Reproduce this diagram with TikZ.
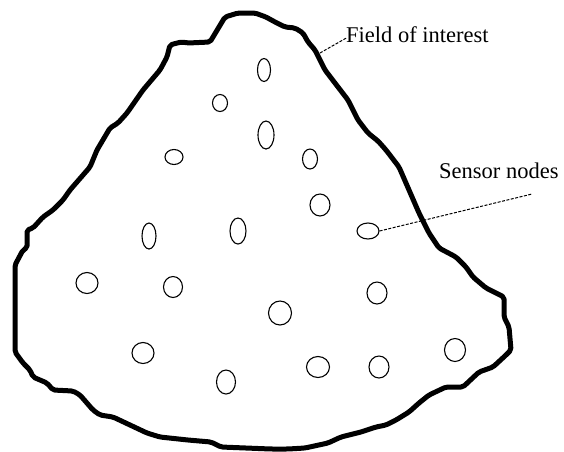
\documentclass[tikz,border=0pt]{standalone}
\usepackage{fontspec}
\setmainfont{Liberation Serif}
\usepackage{tikz}
\usetikzlibrary{shapes.geometric}

\begin{document}
\begin{tikzpicture}[x=1pt, y=-1pt, font=\fontsize{22.5}{27}\selectfont,
    sensor/.style={draw, ellipse, line width=1.1pt, inner sep=0pt},
    leader/.style={line width=1pt, dash pattern=on 3pt off 1.5pt}]
    \useasboundingbox (0,0) rectangle (564,451);

    % field of interest outline
    \draw[line width=5pt, line join=round, rounded corners=2pt]
      (225,17) -- (238,13) -- (255,13) -- (266,17) -- (275,22) -- (285,27) -- (295,28)
      -- (303,33) -- (308,42) -- (315,50) -- (320,60) -- (325,70) -- (338,87) -- (348,100)
      -- (358,120) -- (368,133) -- (378,141) -- (386,150) -- (399,167) -- (409,190)
      -- (419,213) -- (429,233) -- (439,248) -- (456,257) -- (466,267) -- (473,277)
      -- (486,288) -- (504,297) -- (504,317) -- (509,327) -- (511,350) -- (506,355)
      -- (493,367) -- (479,372) -- (463,387) -- (446,387) -- (429,395) -- (419,403)
      -- (409,412) -- (396,420) -- (386,425) -- (376,427) -- (361,432) -- (341,437)
      -- (328,443) -- (305,448) -- (288,449) -- (271,449) -- (221,447) -- (211,442)
      -- (188,440) -- (160,437) -- (147,433) -- (130,425) -- (113,417) -- (100,415)
      -- (93,410) -- (80,395) -- (73,391) -- (53,390) -- (47,383) -- (33,377) -- (30,370)
      -- (23,363) -- (15,352) -- (15,333) -- (15,300) -- (15,265) -- (23,250) -- (27,248)
      -- (27,230) -- (33,228) -- (43,217) -- (53,210) -- (63,200) -- (70,190) -- (90,167)
      -- (97,150) -- (110,128) -- (118,123) -- (127,113) -- (143,90) -- (160,70)
      -- (167,57) -- (170,45) -- (177,43) -- (182,42) -- (188,43) -- (210,42) -- cycle;

    % sensor nodes: name/x/y/width/height
    \foreach \n/\x/\y/\w/\h in {1/264/70/13/23, 2/220/103/15/17, 3/266/135/16/28,
        4/174/157/18/15, 5/310/159/15/20, 6/320/205/20/22, 7/149/236/14/26,
        8/238/231/16/26, 9/368/231/22/16, 10/87/283/22/21, 11/173/287/19/21,
        12/377/293/20/22, 13/280/313/23/24, 14/143/353/22/21, 15/455/350/21/23,
        16/318/367/23/21, 17/379/367/20/22, 18/226/382/19/24}
      \node[sensor, minimum width=\w pt, minimum height=\h pt] (s\n) at (\x,\y) {};

    \node[anchor=base west, inner sep=0pt] (fieldlbl) at (346,42) {Field of interest};
    \node[anchor=base west, inner sep=0pt] (sensorlbl) at (439,178) {Sensor nodes};

    \coordinate (fieldpt) at (320,53);
    \coordinate (sensend) at (532,194);
    \draw[leader] (fieldpt) -- ([yshift=-4pt]fieldlbl.west);
    \draw[leader] (s9.east) -- (sensend);
\end{tikzpicture}
\end{document}
